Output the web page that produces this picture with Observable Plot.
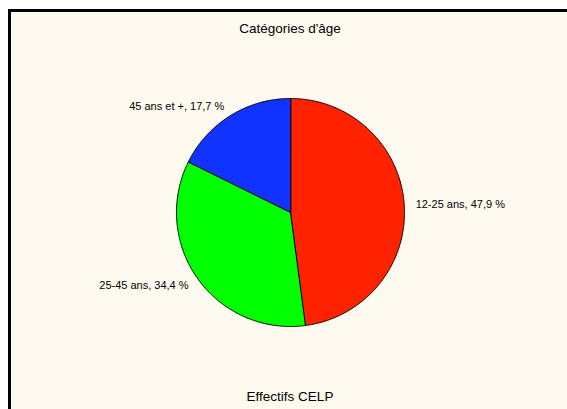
<!DOCTYPE html>
<html>
<head>
<meta charset="utf-8">
<script src="https://cdn.jsdelivr.net/npm/d3@7"></script>
<script src="https://cdn.jsdelivr.net/npm/@observablehq/plot@0.6"></script>
<style>
  html, body { margin: 0; padding: 0; background: #ffffff; overflow: hidden; }
  #wrap { position: relative; width: 567px; height: 409px; overflow: hidden; font-family: "Liberation Sans", Arial, Helvetica, sans-serif; }
  #frame { position: absolute; left: 8px; top: 9px; width: 600px; height: 440px; border-top: 3px solid #000; border-left: 3px solid #000; background: #fffaf0; }
  #chart { position: absolute; left: 0; top: 0; }
  .lbl { position: absolute; left: 90px; width: 400px; text-align: center; font-size: 13.5px; line-height: 14px; color: #000; white-space: nowrap; }
  #title { top: 22px; }
  #caption { top: 390px; }
</style>
</head>
<body>
<div id="wrap">
  <div id="frame"></div>
  <div id="chart"></div>
  <div id="title" class="lbl">Catégories d'âge</div>
  <div id="caption" class="lbl">Effectifs CELP</div>
</div>
<script>
const categories = ["12-25 ans", "25-45 ans", "45 ans et +"];
const percents = [47.9, 34.4, 17.7];
const labelTexts = ["12-25 ans, 47,9 %", "25-45 ans, 34,4 %", "45 ans et +, 17,7 %"];
const colors = ["#ff2200", "#00ff00", "#1033ff"];

const arcs = d3.pie().sort(null).value(d => d)(percents);

const marks = [];
arcs.forEach((a, i) => {
  const pts = [{x: 0, y: 0}];
  const n = Math.max(2, Math.ceil((a.endAngle - a.startAngle) / (Math.PI / 360)));
  for (let k = 0; k <= n; k++) {
    const t = a.startAngle + (a.endAngle - a.startAngle) * k / n;
    pts.push({x: Math.sin(t), y: Math.cos(t)});
  }
  marks.push(Plot.line(pts, {x: "x", y: "y", fill: colors[i], stroke: "#000", strokeWidth: 1, curve: "linear-closed"}));
});

const labels = arcs.map((a, i) => {
  const m = (a.startAngle + a.endAngle) / 2;
  return {x: 1.1 * Math.sin(m), y: 1.1 * Math.cos(m), text: labelTexts[i]};
});
marks.push(Plot.text(labels.filter(d => d.x >= 0), {x: "x", y: "y", text: "text", textAnchor: "start", fontSize: 11, fill: "#000"}));
marks.push(Plot.text(labels.filter(d => d.x < 0), {x: "x", y: "y", text: "text", textAnchor: "end", fontSize: 11, fill: "#000"}));

const plot = Plot.plot({
  width: 567,
  height: 409,
  marginLeft: 176,
  marginRight: 163,
  marginTop: 98,
  marginBottom: 83,
  x: {domain: [-1, 1], axis: null},
  y: {domain: [-1, 1], axis: null},
  style: {background: "transparent", fontFamily: "Liberation Sans, Arial, Helvetica, sans-serif", overflow: "visible"},
  marks
});
document.getElementById("chart").appendChild(plot);
</script>
</body>
</html>
